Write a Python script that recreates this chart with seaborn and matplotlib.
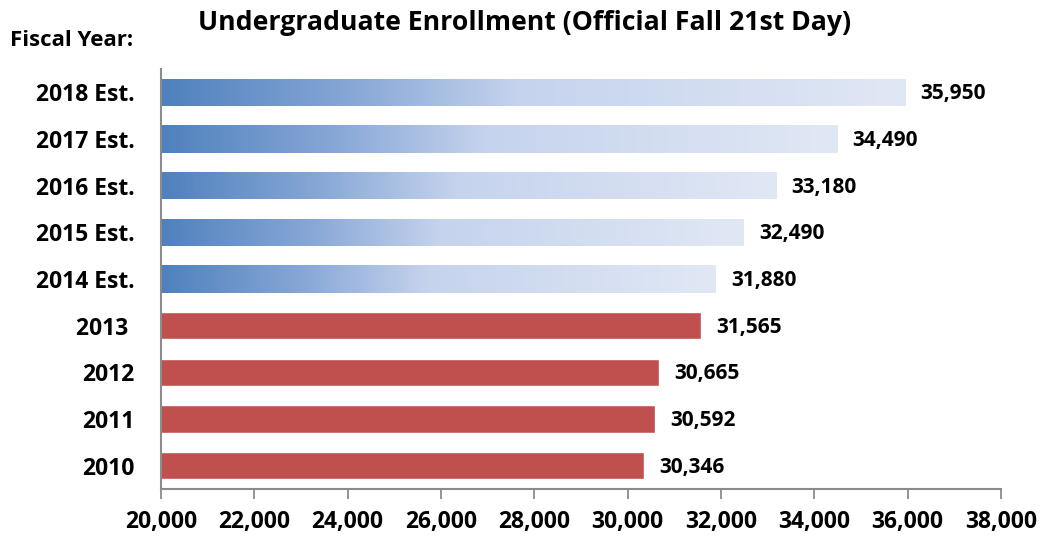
import numpy as np
import pandas as pd
import matplotlib
matplotlib.use("Agg")
import matplotlib.pyplot as plt
import seaborn as sns
from matplotlib.colors import LinearSegmentedColormap

years = ["2018 Est.", "2017 Est.", "2016 Est.", "2015 Est.", "2014 Est.",
         "2013 ", "2012", "2011", "2010"]
enrollment = [35950, 34490, 33180, 32490, 31880, 31565, 30665, 30592, 30346]
is_estimate = [True, True, True, True, True, False, False, False, False]
xticks = [20000, 22000, 24000, 26000, 28000, 30000, 32000, 34000, 36000, 38000]

sns.set_theme(style="white")
plt.rcParams['font.family'] = ['Open Sans', 'DejaVu Sans']
plt.rcParams['font.weight'] = 'bold'

df = pd.DataFrame({"year": years, "value": enrollment})

fig = plt.figure(figsize=(10.45, 5.41), dpi=100)
ax = fig.add_axes([161 / 1045, 52 / 541, 840 / 1045, 420 / 541])

red = "#C0504D"
sns.barplot(data=df, x="value", y="year", orient="h", color=red,
            width=0.58, ax=ax, saturation=1)

ax.set_xlim(20000, 38000)
ax.set_ylim(8.5, -0.5)

# gradient fill for the estimate bars
cmap = LinearSegmentedColormap.from_list(
    "est", [(0.0, "#4F81BD"), (0.25, "#86A6D6"), (0.48, "#C5D3ED"), (1.0, "#E1E8F5")])
grad = np.linspace(0, 1, 256).reshape(1, -1)
for patch, est in zip(ax.patches, is_estimate):
    if not est:
        continue
    x1 = patch.get_x() + patch.get_width()
    y0 = patch.get_y()
    h = patch.get_height()
    patch.set_facecolor("none")
    im = ax.imshow(grad, cmap=cmap, aspect="auto",
                   extent=[20000, x1, y0 + h, y0], zorder=patch.get_zorder())
    im.set_clip_path(patch)

for patch, v in zip(ax.patches, enrollment):
    yc = patch.get_y() + patch.get_height() / 2
    ax.text(v + 330, yc + 0.03, f"{v:,}", va="center", ha="left",
            fontsize=15, fontweight="bold", color="black")

ax.set_xticks(xticks)
ax.set_xticklabels([f"{t:,}" for t in xticks], fontsize=16.5, fontweight="bold")
for lab in ax.get_yticklabels():
    lab.set_fontsize(16.5)
    lab.set_fontweight("bold")
ax.set_xlabel("")
ax.set_ylabel("")
ax.tick_params(axis="x", direction="out", length=7, width=1.3, color="#8C8C8C",
               bottom=True, pad=8, labelcolor="black")
ax.tick_params(axis="y", length=0, pad=19, labelcolor="black")

sns.despine(ax=ax, top=True, right=True)
for s in ["left", "bottom"]:
    ax.spines[s].set_color("#8C8C8C")
    ax.spines[s].set_linewidth(1.5)

fig.text(525 / 1045, 1 - 23 / 541, "Undergraduate Enrollment (Official Fall 21st Day)",
         ha="center", va="center", fontsize=19.2, fontweight="bold", color="black")
fig.text(10 / 1045, 1 - 40 / 541, "Fiscal Year:", ha="left", va="center",
         fontsize=16, fontweight="bold", color="black")

fig.savefig("out.png", dpi=100, facecolor="white")
